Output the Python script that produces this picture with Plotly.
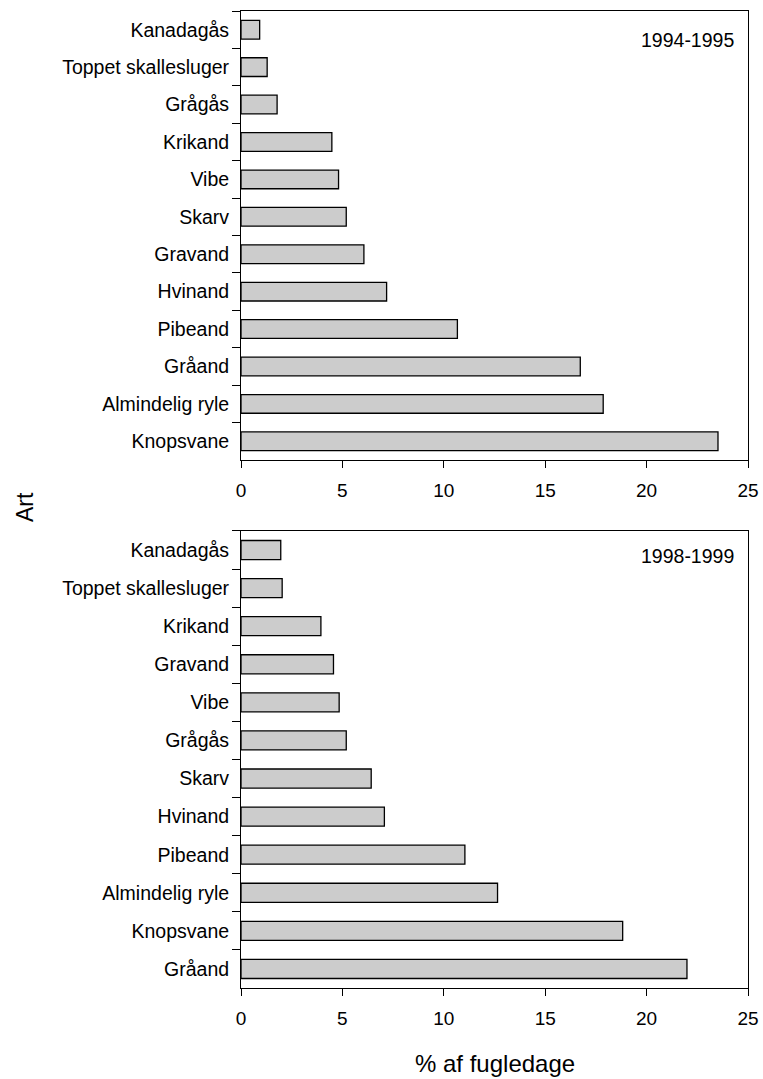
import plotly.graph_objects as go

# 1994-1995
species_1 = ["Kanadagås", "Toppet skallesluger", "Grågås", "Krikand", "Vibe", "Skarv",
             "Gravand", "Hvinand", "Pibeand", "Gråand", "Almindelig ryle", "Knopsvane"]
values_1 = [0.92, 1.29, 1.78, 4.48, 4.81, 5.19, 6.06, 7.18, 10.67, 16.73, 17.86, 23.52]

# 1998-1999
species_2 = ["Kanadagås", "Toppet skallesluger", "Krikand", "Gravand", "Vibe", "Grågås",
             "Skarv", "Hvinand", "Pibeand", "Almindelig ryle", "Knopsvane", "Gråand"]
values_2 = [1.96, 2.03, 3.94, 4.56, 4.84, 5.19, 6.42, 7.07, 11.04, 12.65, 18.82, 21.99]

period_labels = ["1994-1995", "1998-1999"]
x_ticks = [0, 5, 10, 15, 20, 25]

FONT = "Arial, Liberation Sans, sans-serif"

fig = go.Figure()
bar_style = dict(orientation="h", marker=dict(color="#cccccc", line=dict(color="black", width=1.3)),
                 width=0.5, showlegend=False)
fig.add_trace(go.Bar(x=values_1, y=species_1, xaxis="x", yaxis="y", **bar_style))
fig.add_trace(go.Bar(x=values_2, y=species_2, xaxis="x2", yaxis="y2", **bar_style))

xax = dict(range=[0, 25], tickvals=x_ticks, ticks="outside", ticklen=7, tickwidth=1,
           tickcolor="black", showline=True, linecolor="black", linewidth=1, mirror=True,
           showgrid=False, zeroline=False, ticklabelstandoff=6, ticklabeloverflow="allow",
           automargin=False, tickfont=dict(size=19, color="black", family=FONT))
yax = dict(type="category", ticks="outside", ticklen=8, tickwidth=1, tickcolor="black",
           tickson="boundaries", showline=True, linecolor="black", linewidth=1, mirror=True,
           showgrid=False, zeroline=False, range=[11.5, -0.5], ticklabelstandoff=7,
           automargin=False, tickfont=dict(size=19.5, color="black", family=FONT))

fig.update_layout(
    width=763, height=1079,
    margin=dict(l=241, r=15, t=11, b=91),
    plot_bgcolor="white", paper_bgcolor="white",
    xaxis=dict(**xax, domain=[0, 1], anchor="y"),
    yaxis=dict(**yax, domain=[0.5404, 1.0], anchor="x", categoryarray=species_1,
               categoryorder="array"),
    xaxis2=dict(**xax, domain=[0, 1], anchor="y2"),
    yaxis2=dict(**yax, domain=[0.0, 0.4678], anchor="x2", categoryarray=species_2,
                categoryorder="array"),
    font=dict(family=FONT, color="black"),
)

fig.add_annotation(text=period_labels[0], xref="x domain", yref="y domain", x=0.976, y=0.935,
                   xanchor="right", yanchor="middle", showarrow=False,
                   font=dict(size=19.5, color="black", family=FONT))
fig.add_annotation(text=period_labels[1], xref="x2 domain", yref="y2 domain", x=0.976, y=0.945,
                   xanchor="right", yanchor="middle", showarrow=False,
                   font=dict(size=19.5, color="black", family=FONT))
fig.add_annotation(text="Art", xref="paper", yref="paper", x=-0.426, y=0.4923,
                   xanchor="center", yanchor="middle", textangle=-90, showarrow=False,
                   font=dict(size=23, color="black", family=FONT))
fig.add_annotation(text="% af fugledage", xref="paper", yref="paper", x=0.5, y=-0.0768,
                   xanchor="center", yanchor="middle", showarrow=False,
                   font=dict(size=24, color="black", family=FONT))

fig.write_html("out.html", config={"displayModeBar": False},
               post_script="document.body.style.margin='0';document.body.style.overflow='hidden';")
